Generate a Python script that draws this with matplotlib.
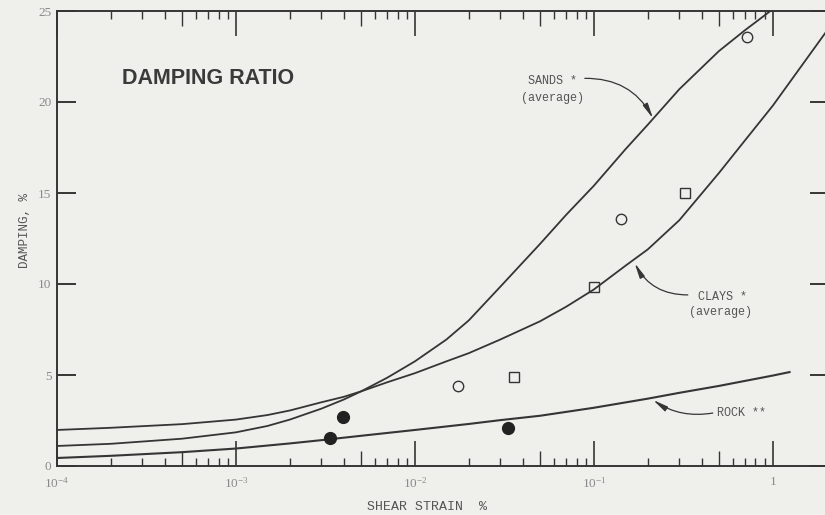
import matplotlib
matplotlib.use('Agg')
import matplotlib.pyplot as plt
from matplotlib.ticker import LogLocator, NullLocator, NullFormatter

# curve data (damping %, shear strain %)
strain = [1e-4, 2e-4, 5e-4, 1e-3, 1.5e-3, 2e-3, 3e-3, 4e-3, 5e-3, 7e-3, 1e-2, 1.5e-2,
          2e-2, 3e-2, 5e-2, 7e-2, 0.1, 0.15, 0.2, 0.3, 0.5, 0.7, 1.0, 2.0]
sands = [1.1, 1.22, 1.5, 1.85, 2.2, 2.55, 3.15, 3.65, 4.1, 4.85, 5.75, 6.95,
         8.0, 9.85, 12.2, 13.8, 15.4, 17.4, 18.75, 20.7, 22.8, 23.95, 25.1]
clays = [1.98, 2.1, 2.3, 2.55, 2.8, 3.05, 3.5, 3.8, 4.1, 4.6, 5.1, 5.75,
         6.2, 6.95, 7.95, 8.75, 9.7, 11.0, 11.9, 13.5, 16.1, 17.9, 19.8, 23.9]
rock_strain = [1e-4, 2e-4, 5e-4, 1e-3, 2e-3, 3e-3, 5e-3, 1e-2, 2e-2, 3e-2, 5e-2, 0.1, 0.2, 0.3, 0.5, 1.0, 1.24]
rock = [0.44, 0.56, 0.76, 0.96, 1.24, 1.42, 1.66, 1.98, 2.31, 2.52, 2.76, 3.2, 3.7, 4.02, 4.4, 4.97, 5.16]

# test points
circ_x = [0.0174, 0.1416, 0.716]
circ_y = [4.4, 13.57, 23.57]
sq_x = [0.0357, 0.1, 0.322]
sq_y = [4.89, 9.84, 15.0]
dot_x = [0.00335, 0.00396, 0.0331]
dot_y = [1.54, 2.69, 2.09]

xtick_vals = [1e-4, 1e-3, 1e-2, 1e-1, 1]
xtick_lbls = ['$\\mathregular{10^{-4}}$', '$\\mathregular{10^{-3}}$', '$\\mathregular{10^{-2}}$',
              '$\\mathregular{10^{-1}}$', '1']
ytick_vals = [0, 5, 10, 15, 20, 25]

bg = '#efefec'
ink = '#353535'
plt.rcParams['font.family'] = ['Liberation Serif', 'DejaVu Sans']

fig = plt.figure(figsize=(8.25, 5.15), dpi=100, facecolor=bg)
ax = fig.add_axes([57/825, 49/515, 772/825, 455/515], facecolor=bg)
ax.set_xscale('log')
ax.set_xlim(1e-4, 2.06)
ax.set_ylim(0, 25)

ax.plot(strain[:len(sands)], sands, color=ink, lw=1.3)
ax.plot(strain, clays, color=ink, lw=1.3)
ax.plot(rock_strain, rock, color=ink, lw=1.5)

ax.plot(circ_x, circ_y, 'o', ms=7.5, mfc='none', mec=ink, mew=1.0)
ax.plot(sq_x, sq_y, 's', ms=7.5, mfc='none', mec=ink, mew=1.0)
ax.plot(dot_x, dot_y, 'o', ms=8.5, color='#222222')

# slightly longer ticks at the 5's (twin made first, it resets the top ticks of ax)
ax2 = ax.twiny()
ax2.set_xscale('log')
ax2.set_xlim(ax.get_xlim())
ax2.set_xticks([5e-4, 5e-3, 5e-2, 0.5])
ax2.xaxis.set_minor_locator(NullLocator())
ax2.tick_params(axis='x', direction='in', length=11, width=1.0, top=True, bottom=True,
                labeltop=False, labelbottom=False, colors=ink)
for s in ax2.spines.values():
    s.set_visible(False)

for s in ax.spines.values():
    s.set_color(ink); s.set_linewidth(1.4)

ax.set_xticks(xtick_vals, xtick_lbls)
ax.xaxis.set_minor_locator(LogLocator(base=10, subs=[2, 3, 4, 6, 7, 8, 9], numticks=20))
ax.xaxis.set_minor_formatter(NullFormatter())
ax.set_yticks(ytick_vals)
ax.tick_params(axis='x', which='major', direction='in', length=18, width=1.2, top=True, bottom=True,
               labeltop=False, labelbottom=True,
               colors=ink, labelcolor='#8a8a8a', labelsize=9.5, pad=7)
ax.tick_params(axis='x', which='minor', direction='in', length=6, width=1.0, top=True, bottom=True, colors=ink)
ax.tick_params(axis='y', which='major', direction='in', length=14, width=1.4, left=True, right=True,
               colors=ink, labelcolor='#8a8a8a', labelsize=9.5, pad=4)

ax.text(0.0007, 21.3, 'DAMPING RATIO', family='Liberation Sans', fontweight='bold', fontsize=15.5,
        color='#3a3a3a', ha='center', va='center')

mono = 'Liberation Mono'
ax.text(0.059, 21.15, 'SANDS *', family=mono, fontsize=8.5, color='#555555', ha='center', va='center')
ax.text(0.059, 20.2, '(average)', family=mono, fontsize=8.5, color='#555555', ha='center', va='center')
ax.text(0.526, 9.29, 'CLAYS *', family=mono, fontsize=8.5, color='#555555', ha='center', va='center')
ax.text(0.51, 8.46, '(average)', family=mono, fontsize=8.5, color='#555555', ha='center', va='center')
ax.text(0.671, 2.91, 'ROCK **', family=mono, fontsize=8.5, color='#555555', ha='center', va='center')

arw = dict(arrowstyle='-|>,head_length=0.9,head_width=0.16', color=ink, lw=0.9,
           shrinkA=0, shrinkB=0)
ax.annotate('', xy=(0.214, 19.1), xytext=(0.089, 21.3),
            arrowprops=dict(arw, connectionstyle='arc3,rad=-0.3'))
ax.annotate('', xy=(0.169, 11.15), xytext=(0.335, 9.4),
            arrowprops=dict(arw, connectionstyle='arc3,rad=-0.3'))
ax.annotate('', xy=(0.214, 3.63), xytext=(0.462, 2.91),
            arrowprops=dict(arw, connectionstyle='arc3,rad=-0.2'))

fig.text(25/825, 1 - 230/515, 'DAMPING, %', family=mono, fontsize=9, color='#555555',
         rotation=90, ha='center', va='center')
fig.text(427/825, 1 - 507/515, 'SHEAR STRAIN  %', family=mono, fontsize=9.5, color='#555555',
         ha='center', va='center')

fig.savefig('out.png', dpi=100, facecolor=bg)
